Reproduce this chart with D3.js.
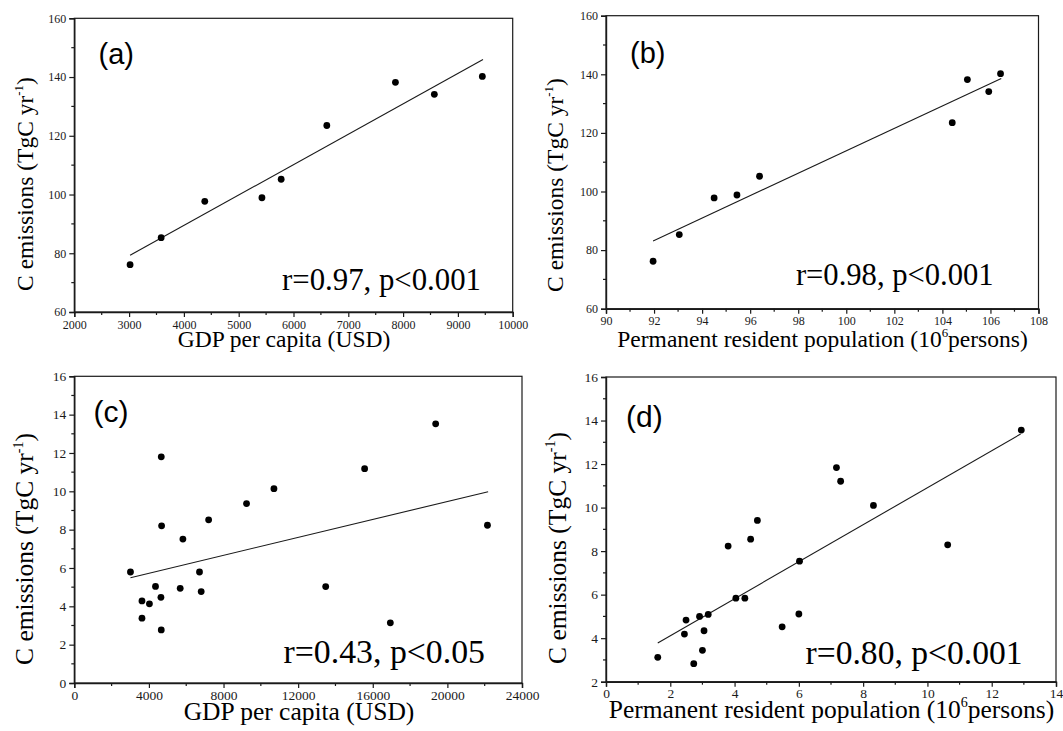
<!DOCTYPE html>
<html>
<head>
<meta charset="utf-8">
<script src="https://cdn.jsdelivr.net/npm/d3@7"></script>
<style>
  html, body { margin: 0; padding: 0; background: #fff; }
  svg { display: block; }
</style>
</head>
<body>
<div id="chart"></div>
<script>
  // ---- data ----
  const gdpA  = [3018, 3585, 4381, 5424, 5775, 6608, 7860, 8570, 9446];
  const emisA = [76.1, 85.3, 97.7, 98.9, 105.2, 123.5, 138.2, 134.1, 140.2];
  const fitAx = [3018, 9458];
  const fitAy = [79.3, 146.0];

  const popB  = [91.96, 93.05, 94.50, 95.45, 96.39, 104.41, 105.04, 105.93, 106.42];
  const emisB = [76.2, 85.3, 97.8, 98.8, 105.2, 123.5, 138.2, 134.1, 140.2];
  const fitBx = [91.96, 106.45];
  const fitBy = [83.1, 138.6];

  const gdpC  = [3011, 3628, 3628, 4027, 4353, 4644, 4662, 4662, 4680, 5677, 5822,
                 6711, 6802, 7201, 9233, 10702, 13477, 15563, 16942, 19372, 22148];
  const emisC = [5.79, 4.28, 3.38, 4.13, 5.04, 4.47, 2.77, 11.80, 8.20, 4.94, 7.51,
                 5.79, 4.77, 8.51, 9.36, 10.14, 5.03, 11.18, 3.14, 13.52, 8.23];
  const fitCx = [3011, 22184];
  const fitCy = [5.49, 9.98];

  const popD  = [1.61, 2.73, 2.44, 2.49, 2.91, 3.05, 3.00, 3.18, 3.80, 4.04, 4.32,
                 4.50, 4.71, 5.48, 6.00, 6.02, 7.17, 7.30, 8.32, 10.63, 12.92];
  const emisD = [3.12, 2.83, 4.19, 4.83, 5.00, 4.34, 3.44, 5.09, 8.23, 5.84, 5.84,
                 8.55, 9.41, 4.52, 5.11, 7.54, 11.84, 11.21, 10.10, 8.29, 13.56];
  const fitDx = [1.61, 12.90];
  const fitDy = [3.78, 13.38];

  const ticksXA = [2000, 3000, 4000, 5000, 6000, 7000, 8000, 9000, 10000];
  const ticksXB = [90, 92, 94, 96, 98, 100, 102, 104, 106, 108];
  const ticksXC = [0, 4000, 8000, 12000, 16000, 20000, 24000];
  const ticksXD = [0, 2, 4, 6, 8, 10, 12, 14];
  const ticksYAB = [60, 80, 100, 120, 140, 160];
  const ticksYC = [0, 2, 4, 6, 8, 10, 12, 14, 16];
  const ticksYD = [2, 4, 6, 8, 10, 12, 14, 16];

  const panelLabels = ['(a)', '(b)', '(c)', '(d)'];
  const statLabels = ['r=0.97, p<0.001', 'r=0.98, p<0.001', 'r=0.43, p<0.05', 'r=0.80, p<0.001'];
  const titleGdp = 'GDP per capita (USD)';
  const titlePop = ['Permanent resident population (10', '6', 'persons)'];
  const titleEmis = ['C emissions (TgC yr', '-1', ')'];

  // ---- layout ----
  const W = 1063, H = 731;
  const SERIF = '"Liberation Serif", "Times New Roman", serif';
  const SANS = '"Liberation Sans", Arial, sans-serif';
  const INK = '#1a1a1a';

  const panels = [
    { xs: gdpA, ys: emisA, fx: fitAx, fy: fitAy, xt: ticksXA, yt: ticksYAB, xMinor: 500, yMinor: 10,
      box: [74.3, 512.7, 18.3, 312], tickFs: 12, pad: 3, titleFs: 23.5, xTitle: [284, 347], xTitleText: 'gdp',
      yTitle: [33, 184], stat: [481, 290], statFs: 30.8, label: [98.5, 64], labelFs: 29 },
    { xs: popB, ys: emisB, fx: fitBx, fy: fitBy, xt: ticksXB, yt: ticksYAB, xMinor: 1, yMinor: 10,
      box: [606, 1038.5, 15.7, 308.7], tickFs: 12, pad: 3, titleFs: 23.5, xTitle: [822.5, 347], xTitleText: 'pop',
      yTitle: [563, 185], stat: [993.6, 285], statFs: 30.6, label: [630, 63], labelFs: 29 },
    { xs: gdpC, ys: emisC, fx: fitCx, fy: fitCy, xt: ticksXC, yt: ticksYC, xMinor: 2000, yMinor: 1,
      box: [74.3, 522, 376.3, 683], tickFs: 13.5, pad: 2, titleFs: 25.5, xTitle: [299, 720], xTitleText: 'gdp',
      yTitle: [33.4, 549], stat: [485, 663], statFs: 33.8, label: [93.4, 422], labelFs: 30 },
    { xs: popD, ys: emisD, fx: fitDx, fy: fitDy, xt: ticksXD, yt: ticksYD, xMinor: 1, yMinor: 1,
      box: [606, 1056, 377, 681.7], tickFs: 13.5, pad: 2, titleFs: 25.5, xTitle: [831.5, 718], xTitleText: 'pop',
      yTitle: [566, 548], stat: [1022.5, 664], statFs: 33.6, label: [626, 427], labelFs: 30 }
  ];

  const svg = d3.select('#chart').append('svg')
    .attr('width', W).attr('height', H)
    .attr('viewBox', `0 0 ${W} ${H}`);

  function minorTicks(domain, step, majors) {
    const out = [];
    const n = Math.round((domain[1] - domain[0]) / step);
    for (let i = 0; i <= n; i++) {
      const v = domain[0] + i * step;
      if (!majors.some(m => Math.abs(m - v) < 1e-9)) out.push(v);
    }
    return out;
  }

  panels.forEach((p, i) => {
    const [x0, x1, y0, y1] = p.box;
    const xDom = [p.xt[0], p.xt[p.xt.length - 1]];
    const yDom = [p.yt[0], p.yt[p.yt.length - 1]];
    const x = d3.scaleLinear().domain(xDom).range([x0, x1]);
    const y = d3.scaleLinear().domain(yDom).range([y1, y0]);

    const g = svg.append('g');

    // Frame (top and right, no ticks)
    g.append('rect')
      .attr('x', x0).attr('y', y0)
      .attr('width', x1 - x0).attr('height', y1 - y0)
      .attr('fill', 'none').attr('stroke', INK).attr('stroke-width', 1.2);

    // Bottom axis
    const xAxis = g.append('g').attr('transform', `translate(0,${y1})`)
      .call(d3.axisBottom(x).tickValues(p.xt).tickSize(5).tickPadding(p.pad).tickFormat(d3.format('d')));
    xAxis.append('g').selectAll('line')
      .data(minorTicks(xDom, p.xMinor, p.xt)).join('line')
      .attr('x1', d => x(d)).attr('x2', d => x(d))
      .attr('y1', 0).attr('y2', 3).attr('stroke', INK).attr('stroke-width', 1.2);

    // Left axis
    const yAxis = g.append('g').attr('transform', `translate(${x0},0)`)
      .call(d3.axisLeft(y).tickValues(p.yt).tickSize(5).tickPadding(3).tickFormat(d3.format('d')));
    yAxis.append('g').selectAll('line')
      .data(minorTicks(yDom, p.yMinor, p.yt)).join('line')
      .attr('y1', d => y(d)).attr('y2', d => y(d))
      .attr('x1', 0).attr('x2', -3).attr('stroke', INK).attr('stroke-width', 1.2);

    [xAxis, yAxis].forEach(ax => {
      ax.attr('font-family', SERIF).attr('font-size', p.tickFs);
      ax.select('.domain').attr('stroke', INK).attr('stroke-width', 1.4);
      ax.selectAll('.tick line').attr('stroke', INK).attr('stroke-width', 1.2);
      ax.selectAll('.tick text')
        .style('font-family', SERIF).style('font-size', p.tickFs + 'px').attr('fill', INK);
    });

    // Fit line
    g.append('line')
      .attr('x1', x(p.fx[0])).attr('y1', y(p.fy[0]))
      .attr('x2', x(p.fx[1])).attr('y2', y(p.fy[1]))
      .attr('stroke', INK).attr('stroke-width', 1.1);

    // Points
    g.append('g').selectAll('circle')
      .data(p.xs.map((v, k) => [v, p.ys[k]])).join('circle')
      .attr('cx', d => x(d[0])).attr('cy', d => y(d[1]))
      .attr('r', 3.4).attr('fill', '#000');

    // Panel label
    g.append('text')
      .attr('x', p.label[0]).attr('y', p.label[1])
      .attr('font-family', SANS).attr('font-size', p.labelFs).attr('fill', '#000')
      .text(panelLabels[i]);

    // Statistics
    g.append('text')
      .attr('x', p.stat[0]).attr('y', p.stat[1]).attr('text-anchor', 'end')
      .attr('font-family', SERIF).attr('font-size', p.statFs).attr('fill', '#000')
      .text(statLabels[i]);

    // X title
    const xt = g.append('text')
      .attr('x', p.xTitle[0]).attr('y', p.xTitle[1]).attr('text-anchor', 'middle')
      .attr('font-family', SERIF).attr('font-size', p.titleFs).attr('fill', '#000');
    if (p.xTitleText === 'gdp') {
      xt.text(titleGdp);
    } else {
      xt.append('tspan').text(titlePop[0]);
      xt.append('tspan').attr('dy', -p.titleFs * 0.42).attr('font-size', p.titleFs * 0.55).text(titlePop[1]);
      xt.append('tspan').attr('dy', p.titleFs * 0.42).text(titlePop[2]);
    }

    // Y title
    const yt = g.append('text')
      .attr('transform', `translate(${p.yTitle[0]},${p.yTitle[1]}) rotate(-90)`)
      .attr('text-anchor', 'middle')
      .attr('font-family', SERIF).attr('font-size', p.titleFs).attr('fill', '#000');
    yt.append('tspan').text(titleEmis[0]);
    yt.append('tspan').attr('dy', -p.titleFs * 0.42).attr('font-size', p.titleFs * 0.55).text(titleEmis[1]);
    yt.append('tspan').attr('dy', p.titleFs * 0.42).text(titleEmis[2]);
  });
</script>
</body>
</html>
